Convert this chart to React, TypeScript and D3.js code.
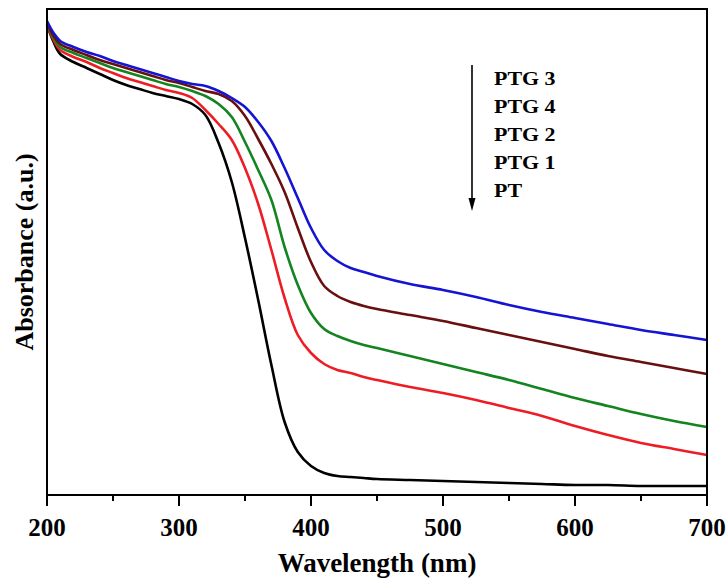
import * as d3 from "d3";

const WIDTH = 727;
const HEIGHT = 580;
const MARGIN = { top: 9, right: 20, bottom: 85, left: 47 };
const FONT = "'Times New Roman', 'Liberation Serif', serif";

// wavelength grid (nm)
const wavelengths = [
  200, 205, 210, 220, 230, 240, 250, 260, 270, 280, 290, 300, 310, 320, 330, 340, 350, 360, 370,
  380, 390, 400, 410, 420, 430, 440, 450, 475, 500, 525, 550, 575, 600, 625, 650, 675, 700,
];

// absorbance (a.u.)
const pt = [
  2.35, 2.265, 2.205, 2.165, 2.135, 2.105, 2.075, 2.05, 2.03, 2.01, 1.995, 1.98, 1.955, 1.9, 1.76,
  1.565, 1.285, 0.975, 0.65, 0.365, 0.215, 0.145, 0.11, 0.095, 0.09, 0.085, 0.08, 0.075, 0.07,
  0.065, 0.06, 0.055, 0.05, 0.05, 0.045, 0.045, 0.045,
];
const ptg1 = [
  2.35, 2.275, 2.225, 2.19, 2.165, 2.135, 2.11, 2.085, 2.065, 2.045, 2.025, 2.01, 1.985, 1.925,
  1.855, 1.775, 1.635, 1.455, 1.225, 0.985, 0.8, 0.71, 0.655, 0.625, 0.61, 0.59, 0.575, 0.54, 0.51,
  0.475, 0.435, 0.395, 0.345, 0.3, 0.26, 0.23, 0.2,
];
const ptg2 = [
  2.355, 2.285, 2.24, 2.21, 2.185, 2.16, 2.135, 2.115, 2.095, 2.075, 2.055, 2.04, 2.02, 1.995,
  1.955, 1.89, 1.765, 1.625, 1.475, 1.24, 1.05, 0.91, 0.83, 0.795, 0.77, 0.75, 0.735, 0.695,
  0.655, 0.615, 0.575, 0.53, 0.485, 0.445, 0.405, 0.37, 0.34,
];
const ptg4 = [
  2.36, 2.295, 2.255, 2.225, 2.2, 2.175, 2.155, 2.135, 2.115, 2.095, 2.075, 2.06, 2.04, 2.02, 2.005,
  1.97, 1.895, 1.78, 1.655, 1.515, 1.335, 1.165, 1.045, 0.995, 0.965, 0.945, 0.93, 0.9, 0.87, 0.835,
  0.8, 0.765, 0.73, 0.695, 0.665, 0.635, 0.605,
];
const ptg3 = [
  2.37, 2.31, 2.27, 2.24, 2.215, 2.195, 2.17, 2.15, 2.13, 2.11, 2.09, 2.07, 2.055, 2.045, 2.02,
  1.985, 1.94, 1.865, 1.77, 1.635, 1.485, 1.335, 1.225, 1.17, 1.135, 1.115, 1.095, 1.055, 1.025,
  0.99, 0.95, 0.915, 0.885, 0.855, 0.825, 0.8, 0.775,
];

const series = [
  { name: "PT", values: pt, color: "#000000" },
  { name: "PTG 1", values: ptg1, color: "#ee1c24" },
  { name: "PTG 2", values: ptg2, color: "#13841f" },
  { name: "PTG 4", values: ptg4, color: "#6a0f0f" },
  { name: "PTG 3", values: ptg3, color: "#1414d2" },
];

const legendOrder = ["PTG 3", "PTG 4", "PTG 2", "PTG 1", "PT"];
const majorTicks = [200, 300, 400, 500, 600, 700];
const minorTicks = [250, 350, 450, 550, 650];

export default function App() {
  const x = d3
    .scaleLinear()
    .domain([200, 700])
    .range([MARGIN.left, WIDTH - MARGIN.right]);
  const y = d3
    .scaleLinear()
    .domain([0, 2.43])
    .range([HEIGHT - MARGIN.bottom, MARGIN.top]);

  const line = d3
    .line<number>()
    .x((_, i) => x(wavelengths[i]))
    .y((d) => y(d))
    .curve(d3.curveCatmullRom.alpha(0.5));

  const bottom = HEIGHT - MARGIN.bottom;
  const right = WIDTH - MARGIN.right;
  const legendX = 472;

  return (
    <svg
      width={WIDTH}
      height={HEIGHT}
      style={{ position: "absolute", left: 0, top: 0, background: "#fff" }}
      fontFamily={FONT}
      fontWeight="bold"
    >
      {series.map((s) => (
        <path key={s.name} d={line(s.values) || ""} fill="none" stroke={s.color} strokeWidth={2.6} />
      ))}

      <rect
        x={MARGIN.left}
        y={MARGIN.top}
        width={right - MARGIN.left}
        height={bottom - MARGIN.top}
        fill="none"
        stroke="#000"
        strokeWidth={2}
      />

      {majorTicks.map((t) => (
        <g key={`M${t}`}>
          <line x1={x(t)} x2={x(t)} y1={bottom} y2={bottom + 11} stroke="#000" strokeWidth={2} />
          <text x={x(t)} y={bottom + 41} textAnchor="middle" fontSize={25}>
            {t}
          </text>
        </g>
      ))}
      {minorTicks.map((t) => (
        <line key={`m${t}`} x1={x(t)} x2={x(t)} y1={bottom} y2={bottom + 6} stroke="#000" strokeWidth={2} />
      ))}

      <text x={(MARGIN.left + right) / 2} y={572} textAnchor="middle" fontSize={27}>
        Wavelength (nm)
      </text>
      <text transform={`translate(33 ${(MARGIN.top + bottom) / 2}) rotate(-90)`} textAnchor="middle" fontSize={26}>
        Absorbance (a.u.)
      </text>

      <line x1={legendX} x2={legendX} y1={65} y2={200} stroke="#000" strokeWidth={1.6} />
      <path d={`M${legendX - 3.5},198 L${legendX + 3.5},198 L${legendX},211 Z`} fill="#000" />
      {legendOrder.map((name, i) => (
        <text key={name} transform={`translate(494 ${85 + i * 28}) scale(1.22 1)`} fontSize={18}>
          {name}
        </text>
      ))}
    </svg>
  );
}
